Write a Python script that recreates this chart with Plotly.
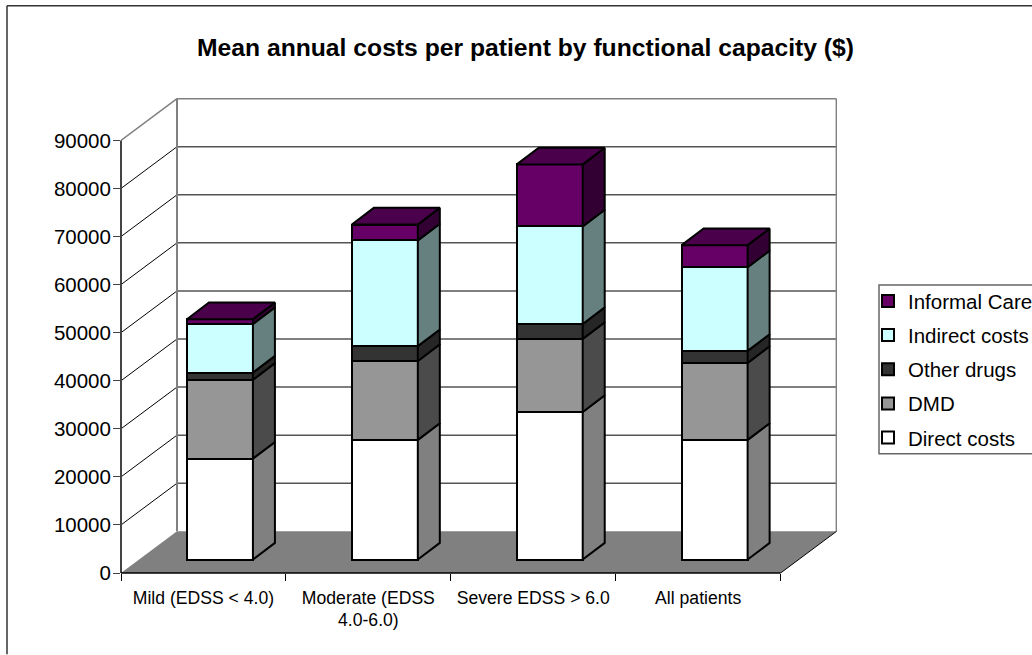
import plotly.graph_objects as go

categories = ["Mild (EDSS < 4.0)", "Moderate (EDSS<br>4.0-6.0)", "Severe EDSS > 6.0", "All patients"]
direct_costs = [21000, 24900, 30700, 24900]
dmd = [16400, 16400, 15200, 16000]
other_drugs = [1500, 3100, 3100, 2500]
indirect_costs = [10100, 22000, 20300, 17400]
informal_care = [1000, 3300, 12900, 4600]
y_ticks = [0, 10000, 20000, 30000, 40000, 50000, 60000, 70000, 80000, 90000]

FONT = "Liberation Sans"
# oblique offset of the back wall and the bars, in axis units
DEPTH_X, DEPTH_Y = 0.3396, 8678
BAR_SHIFT_X, BAR_SHIFT_Y = 0.1, 2800
BAR_DEPTH_X, BAR_DEPTH_Y = 0.1334, 3467
BAR_WIDTH = 0.4
N = len(categories)

series = [
    ("Direct costs", direct_costs, "#FFFFFF", "#808080"),
    ("DMD", dmd, "#969696", "#4B4B4B"),
    ("Other drugs", other_drugs, "#333333", "#262626"),
    ("Indirect costs", indirect_costs, "#CCFFFF", "#668080"),
    ("Informal Care", informal_care, "#660066", "#330033"),
]

fig = go.Figure()

# front faces
bases = [BAR_SHIFT_Y] * N
xs = [i + 0.5 + BAR_SHIFT_X for i in range(N)]
faces = []
for rank, (name, values, front, side) in enumerate(series):
    fig.add_trace(go.Bar(
        x=xs, y=values, base=bases, width=BAR_WIDTH, name=name, legendgroup=name,
        legendrank=1000 - rank,
        marker=dict(color=front, line=dict(color="black", width=2)),
    ))
    tops = [b + v for b, v in zip(bases, values)]
    faces.append((bases, tops, side))
    bases = tops

# side faces and the top of each column
for low, high, side in faces:
    for i in range(N):
        right = xs[i] + BAR_WIDTH / 2
        fig.add_trace(go.Scatter(
            x=[right, right + BAR_DEPTH_X, right + BAR_DEPTH_X, right, right],
            y=[low[i], low[i] + BAR_DEPTH_Y, high[i] + BAR_DEPTH_Y, high[i], low[i]],
            mode="lines", fill="toself", fillcolor=side,
            line=dict(color="black", width=2), showlegend=False, hoverinfo="skip",
        ))
for i in range(N):
    left = xs[i] - BAR_WIDTH / 2
    right = xs[i] + BAR_WIDTH / 2
    top = bases[i]
    fig.add_trace(go.Scatter(
        x=[left, right, right + BAR_DEPTH_X, left + BAR_DEPTH_X, left],
        y=[top, top, top + BAR_DEPTH_Y, top + BAR_DEPTH_Y, top],
        mode="lines", fill="toself", fillcolor="#4B004B",
        line=dict(color="black", width=2), showlegend=False, hoverinfo="skip",
    ))

# floor, walls and gridlines
shapes = [dict(
    type="path", layer="below", fillcolor="#808080", line=dict(width=0),
    path=f"M 0 0 L {N} 0 L {N + DEPTH_X} {DEPTH_Y} L {DEPTH_X} {DEPTH_Y} Z",
)]
for v in y_ticks[1:]:
    top_line = v == y_ticks[-1]
    shapes.append(dict(
        type="line", layer="below", x0=0, x1=DEPTH_X, y0=v, y1=v + DEPTH_Y,
        line=dict(color="#808080" if top_line else "black", width=1.5 if top_line else 1),
    ))
    shapes.append(dict(
        type="line", layer="below", x0=DEPTH_X, x1=N + DEPTH_X, y0=v + DEPTH_Y, y1=v + DEPTH_Y,
        line=dict(color="#808080" if top_line else "#555555", width=1.5),
    ))
for x in [DEPTH_X, N + DEPTH_X]:
    shapes.append(dict(
        type="line", layer="below", x0=x, x1=x, y0=DEPTH_Y, y1=y_ticks[-1] + DEPTH_Y,
        line=dict(color="#808080", width=2),
    ))
shapes.append(dict(
    type="line", layer="below", x0=N, x1=N + DEPTH_X, y0=0, y1=DEPTH_Y,
    line=dict(color="black", width=1),
))
# axis lines
shapes.append(dict(
    type="line", xref="paper", x0=0, x1=0, y0=0, y1=y_ticks[-1],
    line=dict(color="#444444", width=2),
))
shapes.append(dict(
    type="line", yref="paper", y0=0, y1=0, x0=0, x1=N,
    line=dict(color="black", width=1.5),
))
# chart frame: only the top and left edges fall inside the picture
shapes.append(dict(type="line", xref="paper", yref="paper", x0=-114 / 716, x1=911 / 716,
                   y0=568.5 / 476, y1=568.5 / 476, line=dict(color="#333333", width=1.5)))
shapes.append(dict(type="line", xref="paper", yref="paper", x0=-114 / 716, x1=-114 / 716,
                   y0=568.5 / 476, y1=-81.5 / 476, line=dict(color="#333333", width=1.5)))
# legend box, runs off the right edge like the reference
shapes.append(dict(type="rect", xref="paper", yref="paper", x0=758 / 716, x1=930 / 716,
                   y0=119.5 / 476, y1=288.5 / 476, fillcolor="white",
                   line=dict(color="#666666", width=1.5)))

fig.update_layout(
    width=1032,
    height=655,
    margin=dict(l=121, r=195, t=97.5, b=81.5, autoexpand=False),
    paper_bgcolor="white",
    plot_bgcolor="rgba(0,0,0,0)",
    font=dict(family=FONT, color="black"),
    barmode="overlay",
    bargap=0,
    shapes=shapes,
    title=dict(
        text="<b>Mean annual costs per patient by functional capacity ($)</b>",
        font=dict(family=FONT, size=24.7, color="black"),
        x=525.5 / 1032, xanchor="center", y=1 - 47.5 / 655, yanchor="middle",
    ),
    showlegend=True,
    legend=dict(
        x=747 / 716, y=292.5 / 476, xanchor="left", yanchor="top",
        traceorder="grouped", tracegroupgap=4.5,
        borderwidth=0, bgcolor="rgba(0,0,0,0)",
        font=dict(family=FONT, size=20.5, color="black"),
    ),
    xaxis=dict(
        range=[0, 716 / 164.9], showgrid=False, zeroline=False, showline=False,
        tickvals=[i + 0.5 for i in range(N)], ticktext=categories, ticks="",
        tickangle=0, ticklabelstandoff=12, tickfont=dict(family=FONT, size=17.6),
        minor=dict(tickvals=list(range(N + 1)), ticks="outside", ticklen=7, tickcolor="black",
                   showgrid=False),
    ),
    yaxis=dict(
        range=[0, 98816], showgrid=False, zeroline=False, showline=False,
        tickvals=y_ticks, ticks="outside", ticklen=7, tickcolor="#444444",
        ticklabelstandoff=-2, tickformat="d", tickfont=dict(family=FONT, size=20.5),
    ),
)

fig.write_html(
    "out.html",
    config={"displayModeBar": False},
    post_script="document.body.style.margin='0';document.body.style.overflow='hidden';",
)
